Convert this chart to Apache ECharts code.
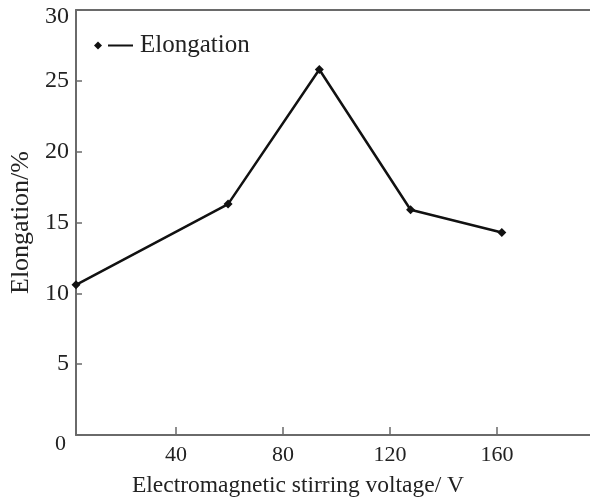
<!DOCTYPE html>
<html>
<head>
<meta charset="utf-8">
<script src="https://cdn.jsdelivr.net/npm/echarts@6/dist/echarts.min.js"></script>
<style>
html,body{margin:0;padding:0;background:#fff;}
#c{width:590px;height:503px;}
</style>
</head>
<body>
<div id="c"></div>
<script>
// Data
const voltage = [0, 50, 80, 110, 140];
const elongation = [10.6, 16.3, 25.8, 15.9, 14.3];
const seriesName = 'Elongation';
// Tick labels as printed on the figure
const xTickLabels = [40, 80, 120, 160];
const yTicks = [0, 5, 10, 15, 20, 25, 30];

const FONT = '"Liberation Serif", "Times New Roman", serif';
const AXIS_COLOR = '#6a6a6a';
const TEXT_COLOR = '#222';

const chart = echarts.init(document.getElementById('c'), null, {renderer: 'canvas'});
chart.setOption({
  backgroundColor: '#fff',
  animation: false,
  grid: {left: 76, top: 10, right: 0, bottom: 67, containLabel: false},
  legend: {
    left: 89, top: 28,
    itemWidth: 39, itemHeight: 8, itemGap: 10,
    icon: 'path://M0,4L4,0L8,4L4,8Z M14,3.1H39V4.9H14Z',
    textStyle: {fontFamily: FONT, fontSize: 25, color: TEXT_COLOR, padding: [0,0,0,2]},
    itemStyle: {color: '#111'},
    data: [seriesName]
  },
  xAxis: [
    { // data scale (hidden)
      type: 'value', min: 0, max: 169, show: false
    },
    { // printed tick scale
      type: 'value', position: 'bottom', min: 2.6, max: 194.8,
      axisLine: {show: true, onZero: false, lineStyle: {color: AXIS_COLOR, width: 2}},
      axisTick: {show: true, inside: true, length: 8, customValues: xTickLabels,
                 lineStyle: {color: AXIS_COLOR, width: 1.5}},
      axisLabel: {show: true, customValues: xTickLabels, margin: 9,
                  fontFamily: FONT, fontSize: 22, color: TEXT_COLOR},
      splitLine: {show: false},
      name: 'Electromagnetic stirring voltage/ V',
      nameLocation: 'middle', nameGap: 39,
      nameTextStyle: {fontFamily: FONT, fontSize: 23.5, color: TEXT_COLOR, padding: [0, 70, 0, 0]}
    },
    { // top frame line
      type: 'value', position: 'top', min: 0, max: 1,
      axisLine: {show: true, lineStyle: {color: AXIS_COLOR, width: 2}},
      axisTick: {show: false}, axisLabel: {show: false}, splitLine: {show: false}
    }
  ],
  yAxis: {
    type: 'value', min: 0, max: 30, interval: 5,
    axisLine: {show: true, lineStyle: {color: AXIS_COLOR, width: 2}},
    axisTick: {show: true, inside: true, length: 6, lineStyle: {color: AXIS_COLOR, width: 1.5}},
    axisLabel: {
      margin: 7, fontFamily: FONT, fontSize: 24, color: TEXT_COLOR,
      formatter: v => v === 0 ? '{z|0}' : (v === 30 ? '{t|30}' : String(v)),
      rich: {
        z: {fontFamily: FONT, fontSize: 22, color: TEXT_COLOR, padding: [18, 3, 0, 0]},
        t: {fontFamily: FONT, fontSize: 24, color: TEXT_COLOR, padding: [14, 0, 0, 0]}
      }
    },
    splitLine: {show: false},
    name: 'Elongation/%',
    nameLocation: 'middle', nameGap: 41, nameRotate: 90,
    nameTextStyle: {fontFamily: FONT, fontSize: 26, color: TEXT_COLOR}
  },
  series: [{
    name: seriesName,
    type: 'line',
    xAxisIndex: 0,
    data: voltage.map((v, i) => [v, elongation[i]]),
    symbol: 'diamond', symbolSize: 9,
    itemStyle: {color: '#111'},
    lineStyle: {color: '#111', width: 2.5},
    clip: false
  }]
});
</script>
</body>
</html>
